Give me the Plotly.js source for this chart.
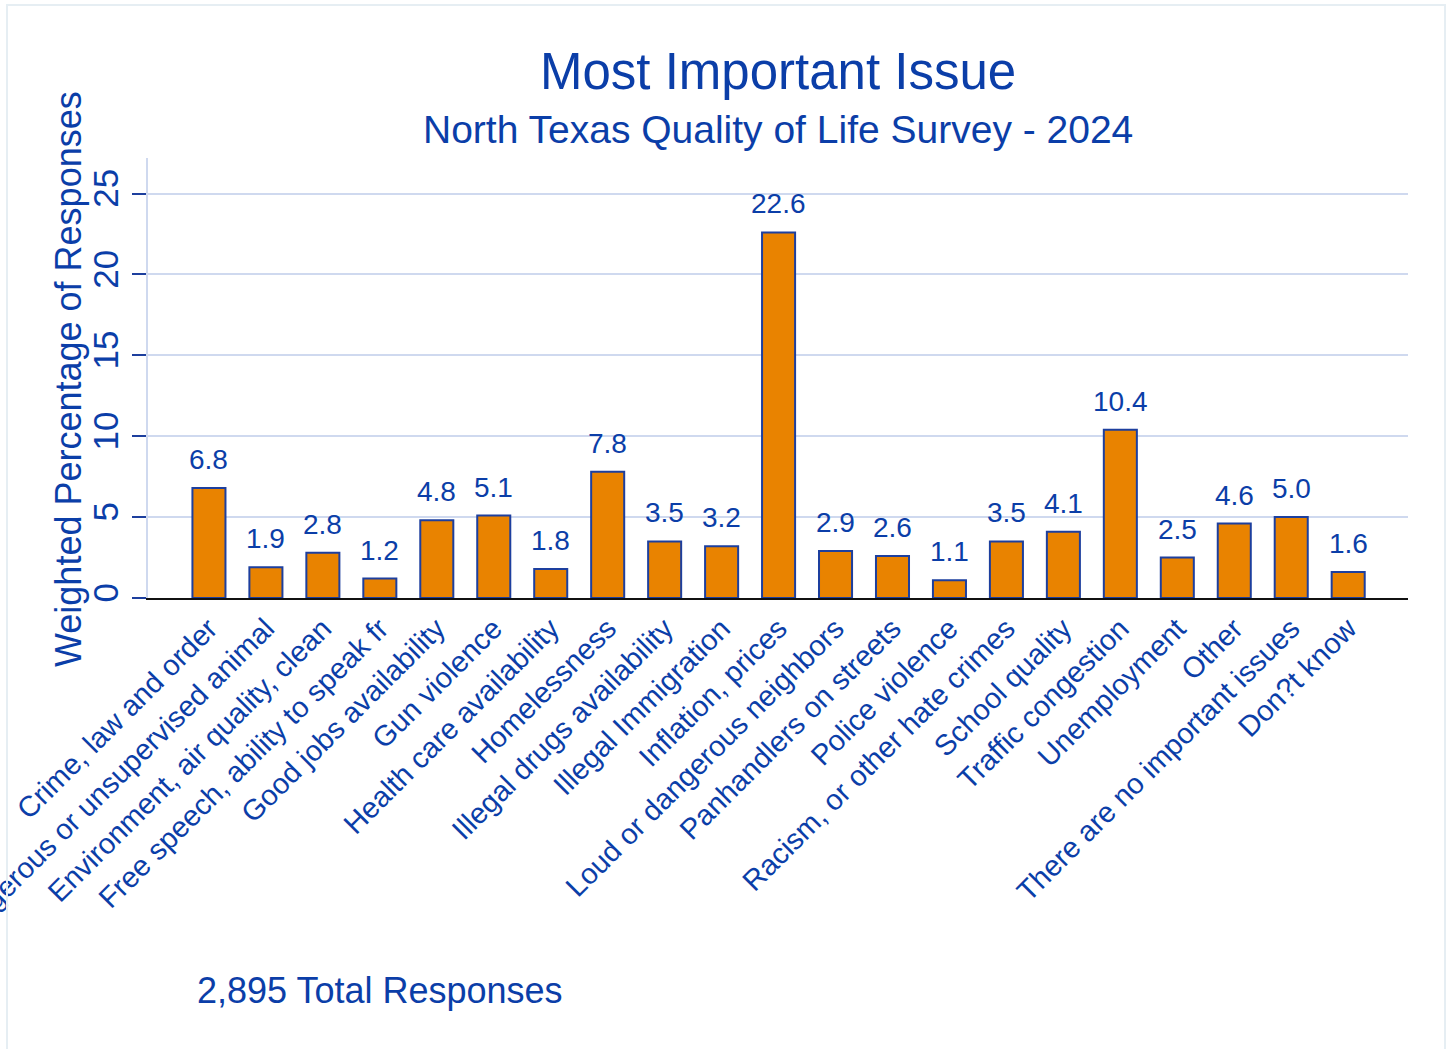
<!DOCTYPE html>
<html><head><meta charset="utf-8">
<script src="https://cdn.plot.ly/plotly-3.0.1.min.js"></script>
<style>body{margin:0;padding:0;background:#fff;overflow:hidden}#wrap{position:relative;width:1449px;height:1049px}#chart{width:1449px;height:1049px}#frame{position:absolute;left:6px;top:4px;width:1436px;height:1070px;border:2px solid #e6eef3;pointer-events:none}</style>
</head><body><div id="wrap"><div id="chart"></div><div id="frame"></div></div>
<script>
const categories = ["Crime, law and order","Dangerous or unsupervised animal","Environment, air quality, clean","Free speech, ability to speak fr","Good jobs availability","Gun violence","Health care availability","Homelessness","Illegal drugs availability","Illegal Immigration","Inflation, prices","Loud or dangerous neighbors","Panhandlers on streets","Police violence","Racism, or other hate crimes","School quality","Traffic congestion","Unemployment","Other","There are no important issues","Don?t know"];
const values = [6.8,1.9,2.8,1.2,4.8,5.1,1.8,7.8,3.5,3.2,22.6,2.9,2.6,1.1,3.5,4.1,10.4,2.5,4.6,5.0,1.6];
const yTicks = [0,5,10,15,20,25];
const titleText = "Most Important Issue";
const subtitleText = "North Texas Quality of Life Survey - 2024";
const yTitleText = "Weighted Percentage of Responses";
const totalNote = "2,895 Total Responses";
const blue = "#0b3ea8";
const idx = categories.map((c,i)=>i);
const valueLabels = values.map((v,i)=>({x:i, y:v, xref:"x", yref:"y", text:v.toFixed(1), showarrow:false, yanchor:"bottom", xanchor:"center", yshift:11, font:{size:28,color:blue}}));
Plotly.newPlot("chart",[{
  type:"bar", x:idx, y:values, width:0.58,
  marker:{color:"#e98300", line:{color:"#1d3f9e", width:2}},
  hoverinfo:"skip"
}],{
  width:1449, height:1049, paper_bgcolor:"#fff", plot_bgcolor:"#fff",
  margin:{l:148, r:41, t:158, b:451},
  font:{family:"Liberation Sans, Arial", color:blue},
  showlegend:false,
  xaxis:{range:[-1.07,21.05], tickvals:idx, ticktext:categories, tickangle:-45, tickfont:{size:29,color:blue}, ticklabeloverflow:"allow", showgrid:false, zeroline:false, showline:true, linecolor:"#111", linewidth:2, ticks:"", fixedrange:true},
  yaxis:{range:[0,27.2], tickvals:yTicks, ticktext:yTicks.map(String), tickangle:-90, tickfont:{size:35,color:blue}, ticks:"outside", ticklen:14, tickwidth:2, tickcolor:"#1d3f9e", showgrid:true, gridcolor:"#cfd9ef", gridwidth:2, zeroline:false, showline:true, linecolor:"#cfd9ef", linewidth:2, fixedrange:true},
  annotations:valueLabels.concat([
    {text:titleText, xref:"paper", yref:"paper", x:0.5, y:(598-72)/440, xanchor:"center", yanchor:"middle", showarrow:false, font:{size:51,color:blue}},
    {text:subtitleText, xref:"paper", yref:"paper", x:0.5, y:(598-130)/440, xanchor:"center", yanchor:"middle", showarrow:false, font:{size:39,color:blue}},
    {text:yTitleText, xref:"paper", yref:"paper", x:(68-148)/1260, y:(598-379)/440, xanchor:"center", yanchor:"middle", textangle:-90, showarrow:false, font:{size:36,color:blue}},
    {text:totalNote, xref:"paper", yref:"paper", x:(195-148)/1260, y:-(990-598)/440, xanchor:"left", yanchor:"middle", showarrow:false, font:{size:36,color:blue}}
  ])
},{displayModeBar:false, staticPlot:true});
</script></body></html>
